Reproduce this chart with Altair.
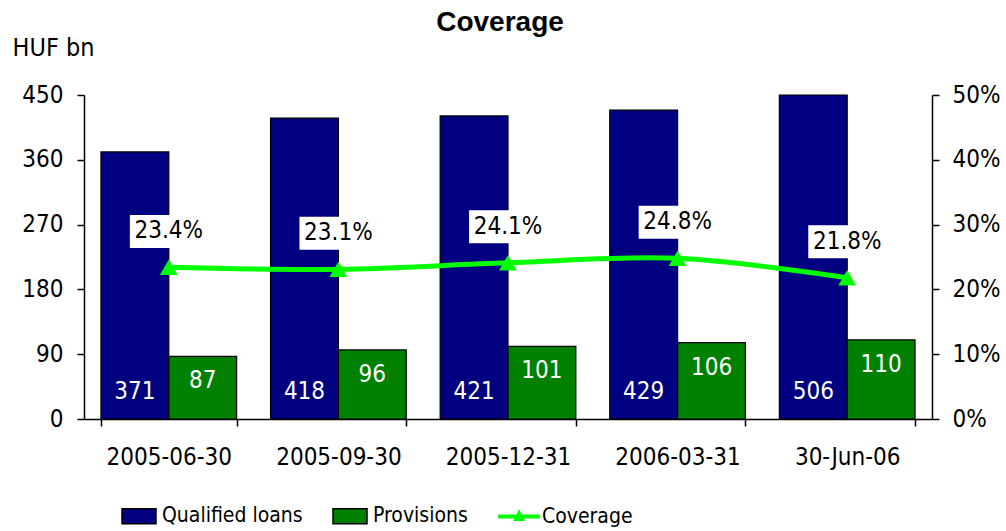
import altair as alt
import pandas as pd

# ---- data ----
dates = ["2005-06-30", "2005-09-30", "2005-12-31", "2006-03-31", "30-Jun-06"]
qualified = [371, 418, 421, 429, 506]
provisions = [87, 96, 101, 106, 110]
coverage_pct = [23.4, 23.1, 24.1, 24.8, 21.8]
series_names = ["Qualified loans", "Provisions", "Coverage"]
series_colors = ["#000080", "#008000", "#00FF00"]
series_strokes = ["#000000", "#000000", "#00FF00"]
left_ticks = [0, 90, 180, 270, 360, 450]
right_ticks = [0, 0.1, 0.2, 0.3, 0.4, 0.5]

FONT = "DejaVu Sans Condensed"

bars_df = pd.DataFrame({
    "date": dates * 2,
    "series": [series_names[0]] * len(dates) + [series_names[1]] * len(dates),
    "value": qualified + provisions,
})
cov_df = pd.DataFrame({"date": dates, "coverage": [c / 100 for c in coverage_pct]})
legend_df = pd.DataFrame({"series": series_names})

color_scale = alt.Scale(domain=series_names, range=series_colors)
x_axis = alt.Axis(title=None, labelAngle=0, tickBand="extent", labelPadding=19,
                  labelFontSize=24, tickSize=7)
x_enc = alt.X("date:N", sort=dates, axis=x_axis,
              scale=alt.Scale(paddingInner=0.2, paddingOuter=0.1))
xoff = alt.XOffset("series:N", sort=series_names[:2], scale=alt.Scale(paddingInner=0, paddingOuter=0))
y_left_scale = alt.Scale(domain=[0, 450], clamp=True, nice=False)
y_right_scale = alt.Scale(domain=[0, 0.5], nice=False)

bars = alt.Chart(bars_df).mark_bar(stroke="black", strokeWidth=1.2).encode(
    x=x_enc,
    xOffset=xoff,
    y=alt.Y("value:Q", scale=y_left_scale,
            axis=alt.Axis(values=left_ticks, title="HUF bn", titleAngle=0, titleAlign="left",
                          titleBaseline="middle", titleX=-72, titleY=-48, titleFontSize=25,
                          titleFontWeight="normal", labelPadding=14, tickSize=7, orient="left")),
    color=alt.Color("series:N", scale=color_scale),
)

navy_labels = alt.Chart(bars_df).transform_filter(
    alt.datum.series == series_names[0]
).transform_calculate(base="0").mark_text(
    color="white", fontSize=24, dy=-27, baseline="middle", font=FONT
).encode(
    x=x_enc, xOffset=xoff,
    y=alt.Y("base:Q", scale=y_left_scale),
    text=alt.Text("value:Q"),
)

green_labels = alt.Chart(bars_df).transform_filter(
    alt.datum.series == series_names[1]
).mark_text(
    color="white", fontSize=24, dy=25, baseline="middle", font=FONT
).encode(
    x=x_enc, xOffset=xoff,
    y=alt.Y("value:Q", scale=y_left_scale),
    text=alt.Text("value:Q"),
)

left = alt.layer(bars, navy_labels, green_labels)

y_right = alt.Y("coverage:Q", scale=y_right_scale,
                axis=alt.Axis(values=right_ticks, format=".0%", title=None, orient="right",
                              labelPadding=13, tickSize=7))

line = alt.Chart(cov_df).mark_line(color="#00FF00", strokeWidth=5, interpolate="catmull-rom").encode(
    x=x_enc, y=y_right)
points = alt.Chart(cov_df).mark_point(shape="triangle-up", filled=True, color="#00FF00",
                                      size=320, opacity=1).encode(x=x_enc, y=y_right)
boxes = alt.Chart(cov_df).mark_point(
    shape="M-1.18,-1.59H1.18V-0.59H-1.18Z", filled=True, color="white", opacity=1, size=4356
).encode(x=x_enc, y=y_right)
pct_labels = alt.Chart(cov_df).mark_text(
    fontSize=24, dy=-36, baseline="middle", color="black", font=FONT
).encode(x=x_enc, y=y_right, text=alt.Text("coverage:Q", format=".1%"))

right = alt.layer(line, points, boxes, pct_labels)

legend_layer = alt.Chart(legend_df).mark_point(filled=True, opacity=0).encode(
    color=alt.Color("series:N", scale=color_scale, title=None,
                    legend=alt.Legend(orient="none", direction="horizontal", legendX=37, legendY=403,
                                      title=None, symbolSize=1156, symbolStrokeWidth=1.5,
                                      labelFontSize=21, labelFont=FONT, columnPadding=27,
                                      labelOffset=5, symbolOpacity=1)),
    stroke=alt.Stroke("series:N", scale=alt.Scale(domain=series_names, range=series_strokes), title=None),
    shape=alt.Shape("series:N", title=None, scale=alt.Scale(
        domain=series_names,
        range=["M-1,-0.44H1V0.44H-1Z", "M-1,-0.44H1V0.44H-1Z",
               "M-1.18,-0.08H1.18V0.08H-1.18Z M-0.28,0.22L0,-0.33L0.28,0.22Z"])),
)

chart = alt.layer(legend_layer, left, right).resolve_scale(y="independent").properties(
    width=848, height=324,
    autosize=alt.AutoSizeParams(type="none"),
    padding={"left": 84, "top": 95, "right": 74, "bottom": 112},
    title=alt.TitleParams("Coverage", font="Liberation Sans", fontSize=28, fontWeight="bold",
                          anchor="middle", offset=-2, dx=-8),
    background="white",
).configure_view(strokeWidth=0).configure_axis(
    grid=False, domainColor="black", domainWidth=1.5, tickColor="black", tickWidth=1.5,
    labelFont=FONT, labelFontSize=24, labelColor="black", titleFont=FONT, titleColor="black",
).configure_legend(labelColor="black")

chart.save("out.html", embed_options={"renderer": "svg", "actions": False})
